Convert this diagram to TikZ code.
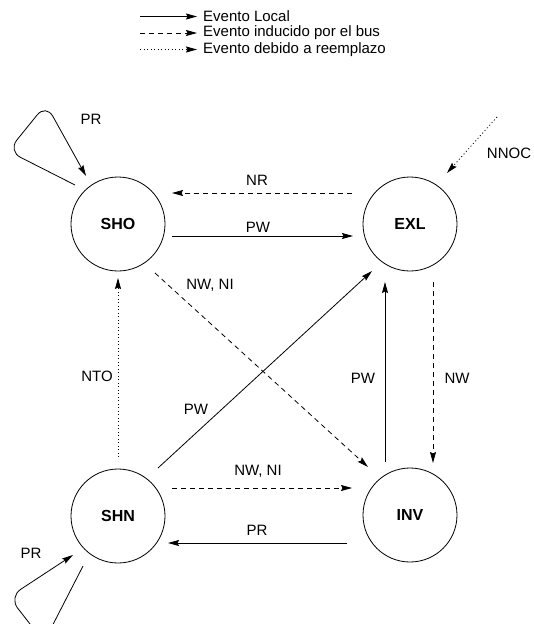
\documentclass[tikz,border=0pt]{standalone}
\usepackage{fontspec}
\setmainfont{Liberation Sans}
\usetikzlibrary{arrows.meta,calc}
\begin{document}
\begin{tikzpicture}[x=1pt,y=-1pt,
  state/.style={circle,draw,line width=0.8pt,minimum size=94pt,inner sep=0pt,font=\fontsize{16}{18}\selectfont\bfseries},
  lbl/.style={font=\fontsize{15}{17}\selectfont,inner sep=0pt},
  arr/.style={line width=0.8pt,-{Stealth[length=11pt,width=6pt,inset=1.5pt]}},
  loc/.style={arr},
  bus/.style={arr,dash pattern=on 5pt off 4pt},
  repl/.style={arr,dash pattern=on 1pt off 2.5pt},
  loopst/.style={arr,rounded corners=14pt}]
\useasboundingbox (0,0) rectangle (533,624);
% legend
\coordinate (g1a) at (140,16.5); \coordinate (g1b) at (197,16.5);
\coordinate (g2a) at (140,33); \coordinate (g2b) at (197,33);
\coordinate (g3a) at (140,49.5); \coordinate (g3b) at (197,49.5);
\draw[loc] (g1a) -- (g1b);
\draw[bus] (g2a) -- (g2b);
\draw[repl] (g3a) -- (g3b);
\node[lbl,anchor=west] (t1) at (203,16.5) {Evento Local};
\node[lbl,anchor=west] (t2) at (203,33) {Evento inducido por el bus};
\node[lbl,anchor=west] (t3) at (203,49.5) {Evento debido a reemplazo};
% states
\node[state] (SHO) at (118,224) {SHO};
\node[state] (EXL) at (410,224) {EXL};
\node[state] (SHN) at (118,516) {SHN};
\node[state] (INV) at (410,515) {INV};
% edges
\draw[bus] ($(EXL)+(-58,-31)$) -- ($(SHO)+(54,-31)$);
\node[lbl] (lNR) at (257,180) {NR};
\draw[loc] ($(SHO)+(54,12)$) -- ($(EXL)+(-57,12)$);
\node[lbl] (lPW1) at (258,227) {PW};
\draw[bus] ($(SHO)+(37,49)$) -- ($(INV)+(-42,-48)$);
\node[lbl] (lNWNI1) at (210,285) {NW, NI};
\draw[loc] ($(SHN)+(40,-48)$) -- ($(EXL)+(-38,47)$);
\node[lbl] (lPW2) at (196,409) {PW};
\draw[repl] ($(SHN)+(0,-59)$) -- ($(SHO)+(0,54)$);
\node[lbl] (lNTO) at (97,376) {NTO};
\draw[loc] ($(INV)+(-25,-53)$) -- ($(EXL)+(-25,58)$);
\node[lbl] (lPW3) at (363,378) {PW};
\draw[bus] ($(EXL)+(23,58)$) -- ($(INV)+(23,-52)$);
\node[lbl] (lNW) at (457,378) {NW};
\draw[bus] ($(SHN)+(54,-28)$) -- ($(INV)+(-58,-27)$);
\node[lbl] (lNWNI2) at (258,471) {NW, NI};
\draw[loc] ($(INV)+(-63,28)$) -- ($(SHN)+(50,27)$);
\node[lbl] (lPR) at (257,530) {PR};
% self loops
\coordinate (a1) at (8,151);
\coordinate (a2) at (46,104);
\draw[loopst] ($(SHO)+(-43,-39)$) -- (a1) -- (a2) -- ($(SHO)+(-32,-48)$);
\node[lbl] (lPRa) at (91,119) {PR};
\coordinate (b1) at (44,642);
\coordinate (b2) at (9,597);
\draw[loopst] ($(SHN)+(-35,50)$) -- (b1) -- (b2) -- ($(SHN)+(-45,39)$);
\node[lbl] (lPRb) at (31,553) {PR};
% NNOC
\coordinate (n0) at (497,117);
\draw[repl] (n0) -- ($(EXL)+(37,-51)$);
\node[lbl] (lNNOC) at (509,153) {NNOC};
\end{tikzpicture}
\end{document}
